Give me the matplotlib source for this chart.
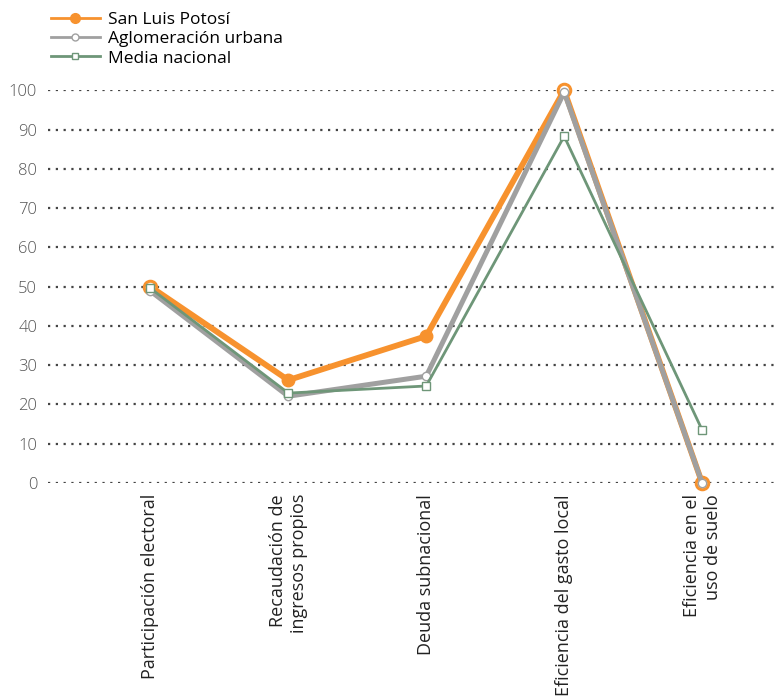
import matplotlib
matplotlib.use("Agg")
import matplotlib.pyplot as plt
from matplotlib.lines import Line2D
import numpy as np

plt.rcParams['font.family'] = ['Open Sans', 'DejaVu Sans']

# Data
categories = ['Participación electoral', 'Recaudación de\ningresos propios',
              'Deuda subnacional', 'Eficiencia del gasto local',
              'Eficiencia en el\nuso de suelo']
san_luis = [50, 26.2, 37.4, 100, 0]
aglomeracion = [48.9, 22.1, 27.2, 99.5, 0]
media_nacional = [49.6, 22.9, 24.7, 88.3, 13.5]
yticks = [0, 10, 20, 30, 40, 50, 60, 70, 80, 90, 100]

orange = '#F7922E'
gray = '#A0A0A0'
green = '#6E9678'

fig = plt.figure(figsize=(7.78, 7.0), dpi=100)
ax = fig.add_axes([0.062, 0.31, 0.938, 0.561])
x = np.arange(len(categories))

# grid lines
for t in yticks:
    ax.axhline(t, color='#444444', linestyle=(0, (1, 2.5)), linewidth=1.6, zorder=0)

ax.plot(x, media_nacional, color=green, linewidth=2, marker='s', markersize=6,
        markerfacecolor='white', markeredgecolor=green, markeredgewidth=1,
        zorder=4, clip_on=False)
ax.plot(x, aglomeracion, color=gray, linewidth=3.6, marker='o', markersize=6,
        markerfacecolor='white', markeredgecolor=gray, markeredgewidth=1,
        zorder=3, clip_on=False)
ax.plot(x, san_luis, color=orange, linewidth=4.2, marker='o', markersize=9,
        markerfacecolor=orange, markeredgecolor=orange, zorder=2, clip_on=False)
# hollow markers at the extremes
hollow = [0, 3, 4]
ax.plot(x[hollow], np.array(san_luis)[hollow], linestyle='none', marker='o',
        markersize=9, markerfacecolor='white', markeredgecolor=orange,
        markeredgewidth=2.2, zorder=2.5, clip_on=False)

ax.set_xlim(-0.74, 4.55)
ax.set_ylim(0, 100)
ax.set_yticks(yticks)
ax.set_xticks(x)
ax.set_xticklabels(categories, rotation=90, ha='center', va='top',
                   multialignment='right', fontsize=13, color='#222222')
ax.tick_params(axis='y', length=0, pad=8, labelsize=12, labelcolor='#555555')
ax.tick_params(axis='x', length=0, pad=8)
for lab in ax.get_yticklabels():
    lab.set_fontweight('light')
for s in ax.spines.values():
    s.set_visible(False)

# legend with thin handles
handles = [
    Line2D([], [], color=orange, linewidth=2, marker='o', markersize=7,
           markerfacecolor=orange, markeredgecolor=orange),
    Line2D([], [], color=gray, linewidth=2, marker='o', markersize=5,
           markerfacecolor='white', markeredgecolor=gray),
    Line2D([], [], color=green, linewidth=2, marker='s', markersize=5,
           markerfacecolor='white', markeredgecolor=green),
]
labels = ['San Luis Potosí', 'Aglomeración urbana', 'Media nacional']
fig.legend(handles, labels, loc='upper left', bbox_to_anchor=(0.05, 1.0),
           frameon=False, fontsize=12.5, handlelength=2.8, labelspacing=0.17,
           borderpad=0.2, handletextpad=0.5)

fig.savefig('out.png', dpi=100)
